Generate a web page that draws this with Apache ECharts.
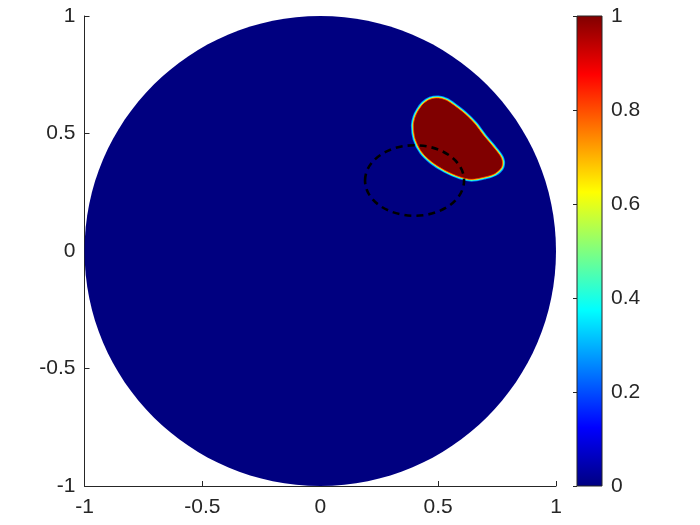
<!DOCTYPE html>
<html><head><meta charset="utf-8">
<script src="https://cdn.jsdelivr.net/npm/echarts@6/dist/echarts.min.js"></script>
<style>html,body{margin:0;padding:0;background:#fff}#c{width:700px;height:525px}</style>
</head><body><div id="c"></div>
<script>
// ---- data ----
const xTicks = [-1, -0.5, 0, 0.5, 1];
const yTicks = [-1, -0.5, 0, 0.5, 1];
const cbTicks = [0, 0.2, 0.4, 0.6, 0.8, 1];
const diskCenter = [0, 0];
const diskRadius = 1;
const diskValue = 0;
const blobX = [0.416, 0.437, 0.466, 0.501, 0.536, 0.572, 0.614, 0.656, 0.699, 0.741, 0.770, 0.770, 0.741, 0.699, 0.642, 0.593, 0.529, 0.473, 0.430, 0.402, 0.395, 0.402];
const blobY = [0.599, 0.627, 0.646, 0.651, 0.641, 0.617, 0.584, 0.542, 0.485, 0.435, 0.393, 0.357, 0.329, 0.315, 0.305, 0.315, 0.343, 0.379, 0.421, 0.478, 0.535, 0.570];
const blobValue = 1;
const ringCenter = [0.4, 0.3];
const ringRadii = [0.21, 0.15];
const jetStops = [[0, '#000080'], [0.125, '#0000ff'], [0.375, '#00ffff'], [0.625, '#ffff00'], [0.875, '#ff0000'], [1, '#800000']];

// ---- helpers ----
function hex(c){return [parseInt(c.substr(1,2),16),parseInt(c.substr(3,2),16),parseInt(c.substr(5,2),16)];}
function jet(v){
  for(let i=1;i<jetStops.length;i++){
    if(v<=jetStops[i][0]){
      const a=jetStops[i-1], b=jetStops[i];
      const t=(v-a[0])/(b[0]-a[0]);
      const ca=hex(a[1]), cb=hex(b[1]);
      return 'rgb('+ca.map((x,k)=>Math.round(x+(cb[k]-x)*t)).join(',')+')';
    }
  }
  return jetStops[jetStops.length-1][1];
}
const FONT = "'Liberation Sans', Arial, sans-serif";
const TXT = '#262626';
const FS = 21;

const chart = echarts.init(document.getElementById('c'), null, {renderer:'canvas'});
const axisCommon = {
  axisLine:{show:true,onZero:false,lineStyle:{color:TXT,width:1}},
  axisTick:{show:true,inside:true,length:5,lineStyle:{color:TXT}},
  splitLine:{show:false},
  axisLabel:{color:TXT,fontFamily:FONT,fontSize:FS}
};
chart.setOption({
  animation:false,
  backgroundColor:'#fff',
  grid:[
    {left:84.5, top:16, width:471.5, height:470},
    {left:577, top:16, width:25, height:470}
  ],
  xAxis:[
    Object.assign({type:'value', gridIndex:0, min:xTicks[0], max:xTicks[xTicks.length-1], interval:0.5, position:'bottom'}, axisCommon, {axisLabel:Object.assign({},axisCommon.axisLabel,{margin:11})}),
    {type:'value', gridIndex:1, min:0, max:1, show:false}
  ],
  yAxis:[
    Object.assign({type:'value', gridIndex:0, min:yTicks[0], max:yTicks[yTicks.length-1], interval:0.5, position:'left'}, axisCommon, {axisLabel:Object.assign({},axisCommon.axisLabel,{margin:9})}),
    Object.assign({type:'value', gridIndex:1, min:cbTicks[0], max:cbTicks[cbTicks.length-1], interval:0.2, position:'right'}, axisCommon, {axisLine:{show:false}, axisTick:{show:true,inside:true,length:4,lineStyle:{color:TXT}}, axisLabel:Object.assign({},axisCommon.axisLabel,{margin:9})})
  ],
  series:[
    {
      type:'custom', xAxisIndex:0, yAxisIndex:0,
      data:[[diskCenter[0], diskCenter[1], diskRadius, diskValue]],
      renderItem:function(params, api){
        const c = api.coord([api.value(0), api.value(1)]);
        const s = api.size([api.value(2), api.value(2)]);
        return {type:'ellipse', shape:{cx:c[0], cy:c[1], rx:s[0], ry:s[1]}, style:{fill:jet(api.value(3)), stroke:null}};
      }
    },
    {
      type:'custom', xAxisIndex:0, yAxisIndex:0,
      data:blobX.map((x,i)=>[x, blobY[i], blobValue]),
      renderItem:function(params, api){
        if(params.dataIndex!==0) return null;
        const pts = blobX.map((x,i)=>api.coord([x, blobY[i]]));
        const v = api.value(2);
        return {type:'group', children:[
          {type:'polygon', shape:{points:pts, smooth:0.3}, style:{fill:null, stroke:jet(0.25), lineWidth:5, lineJoin:'round'}},
          {type:'polygon', shape:{points:pts, smooth:0.3}, style:{fill:null, stroke:jet(0.4), lineWidth:3.4, lineJoin:'round'}},
          {type:'polygon', shape:{points:pts, smooth:0.3}, style:{fill:null, stroke:jet(0.62), lineWidth:1.8, lineJoin:'round'}},
          {type:'polygon', shape:{points:pts, smooth:0.3}, style:{fill:jet(v), stroke:jet(0.82), lineWidth:0.8, lineJoin:'round'}}
        ]};
      }
    },
    {
      type:'custom', xAxisIndex:0, yAxisIndex:0,
      data:[[ringCenter[0], ringCenter[1], ringRadii[0], ringRadii[1]]],
      renderItem:function(params, api){
        const c = api.coord([api.value(0), api.value(1)]);
        const s = api.size([api.value(2), api.value(3)]);
        return {type:'ellipse', shape:{cx:c[0], cy:c[1], rx:s[0], ry:s[1]}, style:{fill:null, stroke:'#000', lineWidth:2.6, lineDash:[7,5]}};
      }
    },
    {
      type:'custom', xAxisIndex:1, yAxisIndex:1,
      data:[[0, cbTicks[cbTicks.length-1], 1, cbTicks[0]]],
      renderItem:function(params, api){
        const p1 = api.coord([api.value(0), api.value(1)]);
        const p2 = api.coord([api.value(2), api.value(3)]);
        const stops = jetStops.map(s=>({offset:1-s[0], color:s[1]})).reverse();
        return {type:'rect', shape:{x:p1[0], y:p1[1], width:p2[0]-p1[0], height:p2[1]-p1[1]},
          style:{fill:{type:'linear', x:0, y:0, x2:0, y2:1, colorStops:stops}, stroke:TXT, lineWidth:1}};
      }
    }
  ]
});
</script>
</body></html>
